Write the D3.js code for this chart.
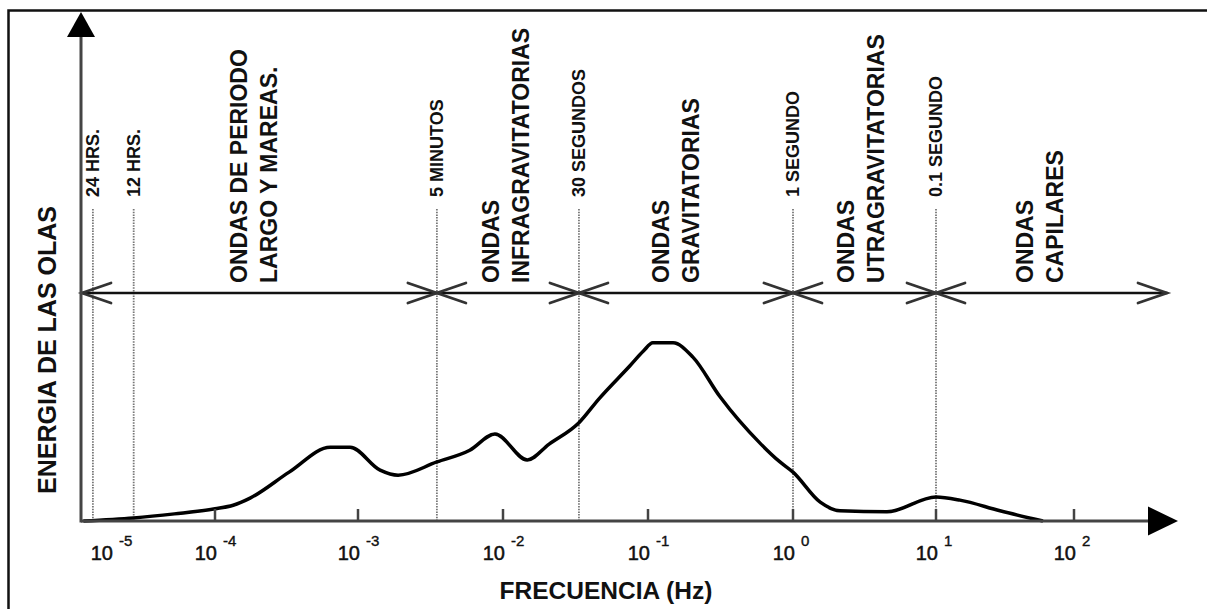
<!DOCTYPE html>
<html>
<head>
<meta charset="utf-8">
<script src="https://cdn.jsdelivr.net/npm/d3@7"></script>
<style>
  html, body { margin: 0; padding: 0; background: #fff; }
  svg { display: block; font-family: "Liberation Sans", Arial, Helvetica, sans-serif; }
</style>
</head>
<body>
<svg id="chart" width="1207" height="609"></svg>
<script>
// Wave energy spectrum (frequency in Hz, relative energy)
const curveFreq = [1.2e-5, 2.7e-5, 5.2e-5, 1.0e-4, 1.34e-4, 1.76e-4, 3.3e-4, 6.4e-4, 8.8e-4,
  1.42e-3, 1.89e-3, 3.5e-3, 5.9e-3, 8.8e-3, 0.0147, 0.0208, 0.0334, 0.0459,
  0.0751, 0.093, 0.108, 0.149, 0.204, 0.314, 0.592, 0.813, 1.0, 1.55, 2.13, 4.54, 10, 14.9, 29.1, 59.6];
const curveEnergy = [0, 0.6, 1.4, 2.4, 3.1, 4.5, 9.6, 14.5, 14.5,
  10.0, 9.0, 11.6, 13.9, 17.1, 12.0, 15.1, 19.3, 24.0,
  30.5, 33.4, 35.0, 35.0, 32.2, 24.4, 15.3, 11.6, 9.6, 3.7, 2.0, 1.8, 4.7, 4.1, 2.0, 0];

// Decades on the frequency axis
const decadeExponents = [-5, -4, -3, -2, -1, 0, 1, 2];

// Wave periods marked with dotted lines
const periodNames = ["24 HRS.", "12 HRS.", "5 MINUTOS", "30 SEGUNDOS", "1 SEGUNDO", "0.1 SEGUNDO"];
const periodFreq = [1.4e-5, 2.7e-5, 3.5e-3, 0.0334, 1, 10];

// Wave classes (two text lines each) and where their names sit
const bandNames = [
  ["ONDAS DE PERIODO", "LARGO Y MAREAS."],
  ["ONDAS", "INFRAGRAVITATORIAS"],
  ["ONDAS", "GRAVITATORIAS"],
  ["ONDAS", "UTRAGRAVITATORIAS"],
  ["ONDAS", "CAPILARES"]
];
const bandLabelFreq = [1.87e-4, 0.0105, 0.156, 2.99, 56.7];
// Class boundaries: 5 minutes, 30 s, 1 s, 0.1 s
const bandEdgeFreq = [3.5e-3, 0.0334, 1, 10];

// ---- layout ----
const svg = d3.select("#chart");
const axisX0 = 81, axisY0 = 521, axisTopY = 12, axisRightX = 1178;
const bandY = 293, bandRightX = 1167;

// Hand-drawn log axis: each decade gets its own segment
const decadeDomain = [1e-4, 1e-3, 1e-2, 1e-1, 1, 10, 100];
const x = d3.scaleLog().domain(decadeDomain).range([215, 358, 503, 648, 793, 936, 1074]);
const y = d3.scaleLinear().domain([0, 100]).range([axisY0, axisTopY]);

// outer frame
svg.append("rect")
  .attr("x", 8.5).attr("y", 10.5).attr("width", 1230).attr("height", 640)
  .attr("fill", "none").attr("stroke", "#111").attr("stroke-width", 2.5);

// dotted period lines
svg.append("g").selectAll("line").data(periodFreq).join("line")
  .attr("x1", d => x(d)).attr("x2", d => x(d))
  .attr("y1", 209).attr("y2", axisY0)
  .attr("stroke", "#777").attr("stroke-width", 1.8)
  .attr("stroke-dasharray", "1.5,1.2");

// period labels
svg.append("g").selectAll("text").data(periodNames).join("text")
  .attr("transform", (d, i) => `translate(${x(periodFreq[i])},197) rotate(-90)`)
  .attr("dy", "0.35em")
  .attr("font-size", 18).attr("font-weight", "bold").attr("fill", "#111")
  .text(d => d);

// wave class band: main line with chevron arrowheads
const bandG = svg.append("g").attr("stroke-linecap", "round");
bandG.append("line")
  .attr("x1", axisX0 + 1).attr("x2", bandRightX)
  .attr("y1", bandY).attr("y2", bandY)
  .attr("stroke", "#111").attr("stroke-width", 2.5);

function chevron(tipX, dir) {
  // dir = -1 points left, +1 points right
  const len = 29, half = 10;
  bandG.append("path")
    .attr("d", `M${tipX - dir * len},${bandY - half} L${tipX},${bandY} L${tipX - dir * len},${bandY + half}`)
    .attr("fill", "none").attr("stroke", "#333").attr("stroke-width", 2.8);
}
chevron(axisX0 + 1, -1);
chevron(bandRightX, 1);
bandEdgeFreq.forEach(f => { chevron(x(f), 1); chevron(x(f), -1); });

// wave class names
const bandLabelG = svg.append("g");
bandNames.forEach((lines, i) => {
  const cx = x(bandLabelFreq[i]);
  lines.forEach((t, j) => {
    bandLabelG.append("text")
      .attr("transform", `translate(${cx + (j - 0.5) * 30},283) rotate(-90)`)
      .attr("dy", "0.35em")
      .attr("font-size", 23).attr("font-weight", "bold").attr("fill", "#111")
      .text(t);
  });
});

// energy curve
const curvePts = curveFreq.map((f, i) => ({ f, e: curveEnergy[i] }));
svg.append("path")
  .datum(curvePts)
  .attr("d", d3.line().x(d => x(d.f)).y(d => y(d.e)).curve(d3.curveMonotoneX))
  .attr("fill", "none").attr("stroke", "#000").attr("stroke-width", 3.5)
  .attr("stroke-linejoin", "round");

// axes
const axG = svg.append("g");
axG.append("line").attr("x1", axisX0).attr("x2", axisX0).attr("y1", axisTopY + 10).attr("y2", axisY0 + 1.5)
  .attr("stroke", "#444").attr("stroke-width", 3);
axG.append("line").attr("x1", axisX0).attr("x2", axisRightX - 10).attr("y1", axisY0).attr("y2", axisY0)
  .attr("stroke", "#444").attr("stroke-width", 3);
axG.append("path")
  .attr("d", `M${axisX0},${axisTopY} L${axisX0 + 14},${axisTopY + 25} L${axisX0 - 14},${axisTopY + 25} Z`)
  .attr("fill", "#000");
axG.append("path")
  .attr("d", `M${axisRightX},${axisY0} L${axisRightX - 30},${axisY0 - 14.5} L${axisRightX - 30},${axisY0 + 14.5} Z`)
  .attr("fill", "#000");

// decade ticks
const tickVals = decadeExponents.map(e => Math.pow(10, e));
axG.selectAll("line.tick").data(tickVals.filter(v => v >= decadeDomain[0])).join("line")
  .attr("class", "tick")
  .attr("x1", d => x(d)).attr("x2", d => x(d))
  .attr("y1", axisY0).attr("y2", axisY0 - 12)
  .attr("stroke", "#444").attr("stroke-width", 2.5);

// decade labels: "10" with the exponent raised
const tickLabG = svg.append("g").attr("fill", "#111");
decadeExponents.forEach(e => {
  const lx = Math.max(x(Math.pow(10, e)) + 2, axisX0 + 32);
  tickLabG.append("text")
    .attr("x", lx).attr("y", 560)
    .attr("text-anchor", "end")
    .attr("font-size", 20)
    .attr("stroke", "#111").attr("stroke-width", 0.5)
    .text("10");
  tickLabG.append("text")
    .attr("x", lx + 6).attr("y", 546)
    .attr("font-size", 15)
    .attr("stroke", "#111").attr("stroke-width", 0.4)
    .text(String(e));
});

// axis titles
svg.append("text")
  .attr("transform", "translate(47,350) rotate(-90)")
  .attr("dy", "0.35em")
  .attr("text-anchor", "middle")
  .attr("font-size", 25).attr("font-weight", "bold").attr("fill", "#111")
  .text("ENERGIA DE LAS OLAS");
svg.append("text")
  .attr("x", 606).attr("y", 599)
  .attr("text-anchor", "middle")
  .attr("font-size", 24.5).attr("font-weight", "bold").attr("fill", "#111")
  .text("FRECUENCIA (Hz)");
</script>
</body>
</html>
